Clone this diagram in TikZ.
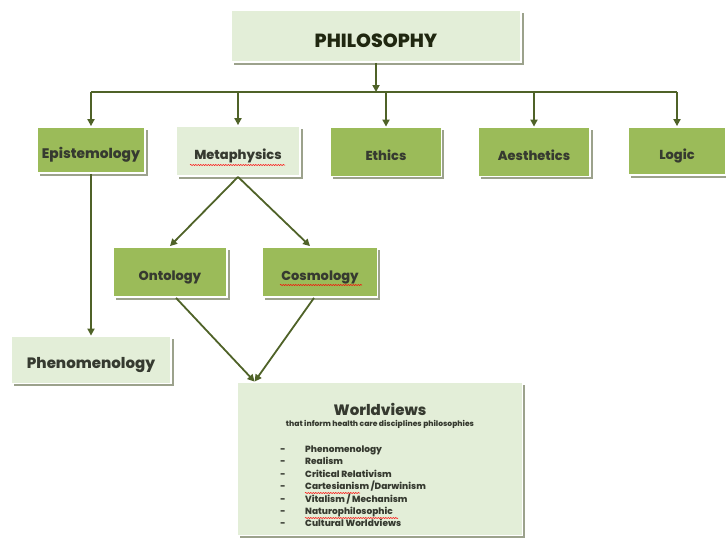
\documentclass[tikz,border=0pt]{standalone}
\usepackage{fontspec}
\setmainfont{Poppins}[BoldFont={Poppins ExtraBold}]
\usetikzlibrary{shadows,arrows.meta,decorations.pathmorphing}

\definecolor{paleleaf}{HTML}{E3EED8}
\definecolor{leaf}{HTML}{9BBB59}
\definecolor{stem}{HTML}{4F6228}
\definecolor{shade}{HTML}{9CA28C}
\definecolor{ink}{HTML}{363A30}

\begin{document}
\begin{tikzpicture}[x=1pt,y=-1pt,
box/.style={draw=white,line width=1.8pt,rectangle,inner sep=4pt,
  drop shadow={shadow xshift=2.5pt,shadow yshift=-2.5pt,fill=shade,opacity=1},
  text=ink,font=\bfseries\fontsize{13}{15}\selectfont,text height=17pt,text depth=0pt},
palebox/.style={box,fill=paleleaf},
leafbox/.style={box,fill=leaf},
link/.style={draw=stem,line width=1.8pt,-{Triangle[length=7pt,width=7pt]}},
bar/.style={draw=stem,line width=1.8pt},
listtext/.style={text=ink,font=\bfseries\fontsize{9}{10}\selectfont,inner sep=0pt},
typo/.style={draw=red,line width=0.5pt,decorate,decoration={snake,amplitude=0.6pt,segment length=2.5pt}}]

\useasboundingbox (0,0) rectangle (726,538);

% top
\draw (376,36) node[palebox,minimum width=290pt,minimum height=52pt,
  font=\bfseries\fontsize{19}{22}\selectfont,text height=22pt,text=stem!40!black] (PHIL) {PHILOSOPHY};

% first row
\draw (91,150) node[leafbox,minimum width=108pt,minimum height=46pt,
  font=\bfseries\fontsize{13.8}{15}\selectfont] (EPI) {Epistemology};
\draw (238,151) node[palebox,minimum width=124pt,minimum height=50pt] (META) {Metaphysics};
\draw (386,152) node[leafbox,minimum width=111pt,minimum height=49pt] (ETH) {Ethics};
\draw (534,152) node[leafbox,minimum width=112pt,minimum height=49pt] (AES) {Aesthetics};
\draw (677,151) node[leafbox,minimum width=98pt,minimum height=48pt] (LOG) {Logic};

% second row
\draw (170,272) node[leafbox,minimum width=114pt,minimum height=50pt] (ONTO) {Ontology};
\draw (320,272) node[leafbox,minimum width=115pt,minimum height=50pt] (COSMO) {Cosmology};
\draw (91,360) node[palebox,minimum width=160pt,minimum height=47pt,
  font=\bfseries\fontsize{15}{17}\selectfont] (PHEN) {Phenomenology};

% worldviews
\draw (380,459) node[palebox,minimum width=285pt,minimum height=153pt] (WORLD) {};
\draw (380,409) node[text=ink,font=\bfseries\fontsize{15}{17}\selectfont,inner sep=0pt] (WTITLE) {Worldviews};
\draw (380,424) node[text=ink,font=\bfseries\fontsize{7.6}{9}\selectfont,inner sep=0pt] (WSUB) {that inform health care disciplines philosophies};
\foreach \item [count=\i] in {Phenomenology,Realism,Critical Relativism,Cartesianism /Darwinism,Vitalism / Mechanism,Naturophilosophic,Cultural Worldviews}
  \draw (283,440+12.4*\i) node[listtext,anchor=base] (D\i) {-}
        (305,440+12.4*\i) node[listtext,anchor=base west] (W\i) {\item};

% spelling marks
\draw[typo] (190,165) -- (285,165);
\draw[typo] (280,285) -- (362,285);
\draw[typo] (305,493) -- (360,493);
\draw[typo] (305,518) -- (398,518);

% connectors
\coordinate (hub) at (PHIL.south |- 0,92);
\draw[link] (PHIL.south) -- (hub);
\draw[bar] (EPI.north |- hub) -- (LOG.north |- hub);
\draw[link] (EPI.north |- hub) -- (EPI.north);
\draw[link] (META.north |- hub) -- (META.north);
\draw[link] (ETH.north |- hub) -- (ETH.north);
\draw[link] (AES.north |- hub) -- (AES.north);
\draw[link] (LOG.north |- hub) -- (LOG.north);
\draw[link] (EPI.south) -- (PHEN.north);
\draw[link] (META.south) -- (ONTO.north);
\draw[link] (META.south) -- ([xshift=-10pt]COSMO.north);
\coordinate (meet) at ([xshift=18pt]WORLD.north west);
\draw[link] ([xshift=6pt]ONTO.south) -- (meet);
\draw[link] ([xshift=-6pt]COSMO.south) -- (meet);

\end{tikzpicture}
\end{document}
